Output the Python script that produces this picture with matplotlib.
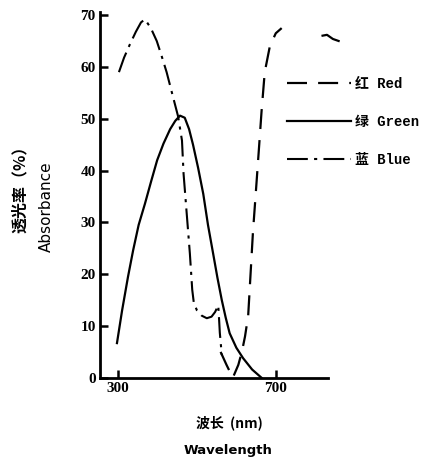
import matplotlib
matplotlib.use('Agg')
import matplotlib.pyplot as plt
import numpy as np

# 读自图片的数据 (nm, %)
green_wl = [297, 310, 325, 338, 352, 368, 384, 399, 415, 432, 445, 457, 469, 480, 490, 503, 516, 528, 541, 552, 563, 573, 583, 600, 617, 640, 664]
green_y = [6.7, 13, 19.5, 24.6, 29.5, 33.6, 38, 42, 45.2, 48, 49.6, 50.6, 50.2, 48, 45, 40.5, 35.5, 29.5, 24, 19.3, 15, 11.6, 8.6, 5.8, 3.8, 1.6, 0]

blue_wl = [302, 315, 330, 345, 358, 368, 383, 398, 410, 423, 440, 452, 462, 466, 474, 482, 488, 492, 500, 512, 525, 537, 546, 554, 556, 558, 563]
blue_y = [59, 61.8, 64.4, 66.8, 68.6, 69.2, 67.5, 65, 62.2, 59, 54, 50.5, 45.8, 39.4, 31.7, 24, 17, 14.5, 13, 12, 11.5, 11.8, 12.7, 14, 11.5, 8.7, 4.4]

red_wl = [560, 575, 591, 605, 614, 622, 630, 636, 642, 651, 658, 664, 672, 685, 700, 715, np.nan, 816, 830, 845, 860, 880]
red_y = [5, 2.5, 0, 2.5, 5, 8, 12, 20, 28, 37.5, 45, 51.5, 59, 64, 66.5, 67.5, np.nan, 66, 66.2, 65.4, 65, 64.5]

yticks = [0, 10, 20, 30, 40, 50, 60, 70]
xticks = [300, 700]

num_font = dict(family='Liberation Serif', weight='bold', size=11)

fig = plt.figure(figsize=(4.33, 4.63), dpi=100)
ax = fig.add_axes([0.231, 0.184, 0.526, 0.79])

ax.plot(red_wl, red_y, color='black', lw=1.6, dashes=(9, 5), label='红 Red', clip_on=False)
ax.plot(green_wl, green_y, color='black', lw=1.6, label='绿 Green')
ax.plot(blue_wl, blue_y, color='black', lw=1.5, dashes=(10, 3, 1.5, 3), label='蓝 Blue')

ax.set_xlim(254, 832)
ax.set_ylim(0, 70.6)
ax.set_xticks(xticks)
ax.set_yticks(yticks)
ax.set_xticklabels([str(v) for v in xticks], fontdict=num_font)
ax.set_yticklabels([str(v) for v in yticks], fontdict=num_font)
ax.tick_params(direction='in', length=6, width=1.8, pad=3)

for side in ['top', 'right']:
    ax.spines[side].set_visible(False)
for side in ['left', 'bottom']:
    ax.spines[side].set_linewidth(2)

leg = ax.legend(loc='upper left', bbox_to_anchor=(0.663, 0.835), bbox_transform=fig.transFigure,
                frameon=False, borderpad=0, borderaxespad=0, handlelength=4.6,
                handletextpad=0.3, labelspacing=1.75,
                prop=dict(family=['Liberation Mono', 'Noto Sans CJK SC'], weight='bold', size=10))

# 轴标题
fig.text(0.046, 0.60, '透光率（%）', rotation=90, ha='center', va='center',
         family=['Noto Sans CJK SC'], weight='bold', fontsize=11.5)
fig.text(0.108, 0.553, 'Absorbance', rotation=90, ha='center', va='center',
         family='DejaVu Sans', fontsize=11)
fig.text(0.53, 0.086, '波长  (nm)', ha='center', va='center',
         family=['Noto Sans CJK SC', 'DejaVu Sans'], weight='bold', fontsize=10)
fig.text(0.527, 0.026, 'Wavelength', ha='center', va='center',
         family='DejaVu Sans', weight='bold', fontsize=9.5)

plt.savefig('out.png', dpi=100)
plt.close(fig)
